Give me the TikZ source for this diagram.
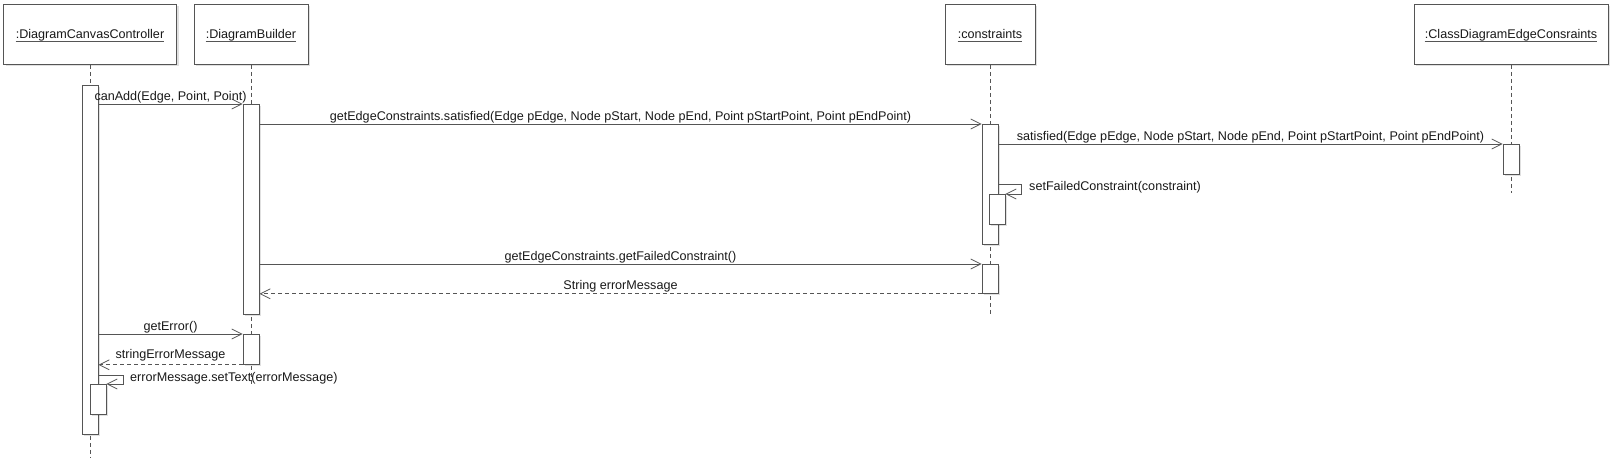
\documentclass[tikz,border=0pt]{standalone}
\usepackage{fontspec}
\setmainfont{Liberation Sans}
\usetikzlibrary{arrows.meta,shadows}
\definecolor{ln}{RGB}{85,85,85}
\definecolor{tx}{RGB}{25,25,25}
\begin{document}
\begin{tikzpicture}[x=1pt,y=-1pt,
  font=\fontsize{12.6}{15}\selectfont, text=tx,
  shad/.style={drop shadow={shadow xshift=2pt, shadow yshift=-2pt, opacity=0.12, fill=black}},
  head/.style={draw=ln, line width=0.8pt, fill=white, minimum width=#1, minimum height=60pt, inner sep=0pt, anchor=north, shad},
  act/.style={draw=ln, line width=0.8pt, fill=white, minimum width=16pt, minimum height=#1, inner sep=0pt, anchor=north, shad},
  lbl/.style={anchor=base, inner sep=0pt},
  life/.style={draw=ln, line width=0.7pt, dash pattern=on 4pt off 3pt},
  msg/.style={draw=ln, line width=0.8pt, -{Straight Barb[length=10pt, width=10pt]}},
  ret/.style={msg, dash pattern=on 4pt off 3pt},
  mlbl/.style={anchor=base, inner sep=0pt, yshift=4pt}]
\useasboundingbox (0,0) rectangle (1613,458);
% heads
\node[head=173pt] (h1) at (90,4) {};
\node[head=114pt] (h2) at (251,4) {};
\node[head=90pt] (h3) at (990,4) {};
\node[head=194pt] (h4) at (1511,4) {};
\node[lbl] (t1) at (90,38) {:DiagramCanvasController};
\node[lbl] (t2) at (251,38) {:DiagramBuilder};
\node[lbl] (t3) at (990,38) {:constraints};
\node[lbl] (t4) at (1511,38) {:ClassDiagramEdgeConsraints};
\foreach \t in {t1,t2,t3,t4}
  \draw[ln, line width=0.7pt] ([yshift=-3.5pt]\t.base west) -- ([yshift=-3.5pt]\t.base east);
% lifeline ends
\coordinate (e1) at (90,458);
\coordinate (e2) at (251,384);
\coordinate (e3) at (990,314);
\coordinate (e4) at (1511,193);
\draw[life] (h1.south) -- (e1);
\draw[life] (h2.south) -- (e2);
\draw[life] (h3.south) -- (e3);
\draw[life] (h4.south) -- (e4);
% activations
\node[act=349pt] (a1) at (90,85) {};
\node[act=210pt] (a2) at (251,104) {};
\node[act=120pt] (a3) at (990,124) {};
\node[act=30pt] (a4) at (1511,144) {};
\node[act=30pt] (a3n) at (997,194) {};
\node[act=29pt] (a3b) at (990,264) {};
\node[act=30pt] (a2b) at (251,334) {};
\node[act=30pt] (a1n) at (98,384) {};
% rows
\coordinate (r5) at (0,184);
\coordinate (r5x) at (1021,184);
\coordinate (r9) at (0,375);
\coordinate (r9x) at (123,375);
% messages
\draw[msg] (a1.east |- a2.north) -- (a2.north west)
  node[mlbl, midway] {canAdd(Edge, Point, Point)};
\draw[msg] (a2.east |- a3.north) -- (a3.north west)
  node[mlbl, midway] {getEdgeConstraints.satisfied(Edge pEdge, Node pStart, Node pEnd, Point pStartPoint, Point pEndPoint)};
\draw[msg] (a3.east |- a4.north) -- (a4.north west)
  node[mlbl, midway] {satisfied(Edge pEdge, Node pStart, Node pEnd, Point pStartPoint, Point pEndPoint)};
\draw[msg] (a3.east |- r5) -- (r5x) |- (a3n.north east);
\node[anchor=base west, inner sep=0pt] (l5) at (1029,190) {setFailedConstraint(constraint)};
\draw[msg] (a2.east |- a3b.north) -- (a3b.north west)
  node[mlbl, midway] {getEdgeConstraints.getFailedConstraint()};
\draw[ret] (a3b.south west) -- (a2.east |- a3b.south)
  node[mlbl, midway] {String errorMessage};
\draw[msg] (a1.east |- a2b.north) -- (a2b.north west)
  node[mlbl, midway] {getError()};
\draw[ret] (a2b.south west) -- (a1.east |- a2b.south)
  node[mlbl, midway, yshift=2pt] {stringErrorMessage};
\draw[msg] (a1.east |- r9) -- (r9x) |- (a1n.north east);
\node[anchor=base west, inner sep=0pt] (l9) at (130,381) {errorMessage.setText(errorMessage)};
\end{tikzpicture}
\end{document}
